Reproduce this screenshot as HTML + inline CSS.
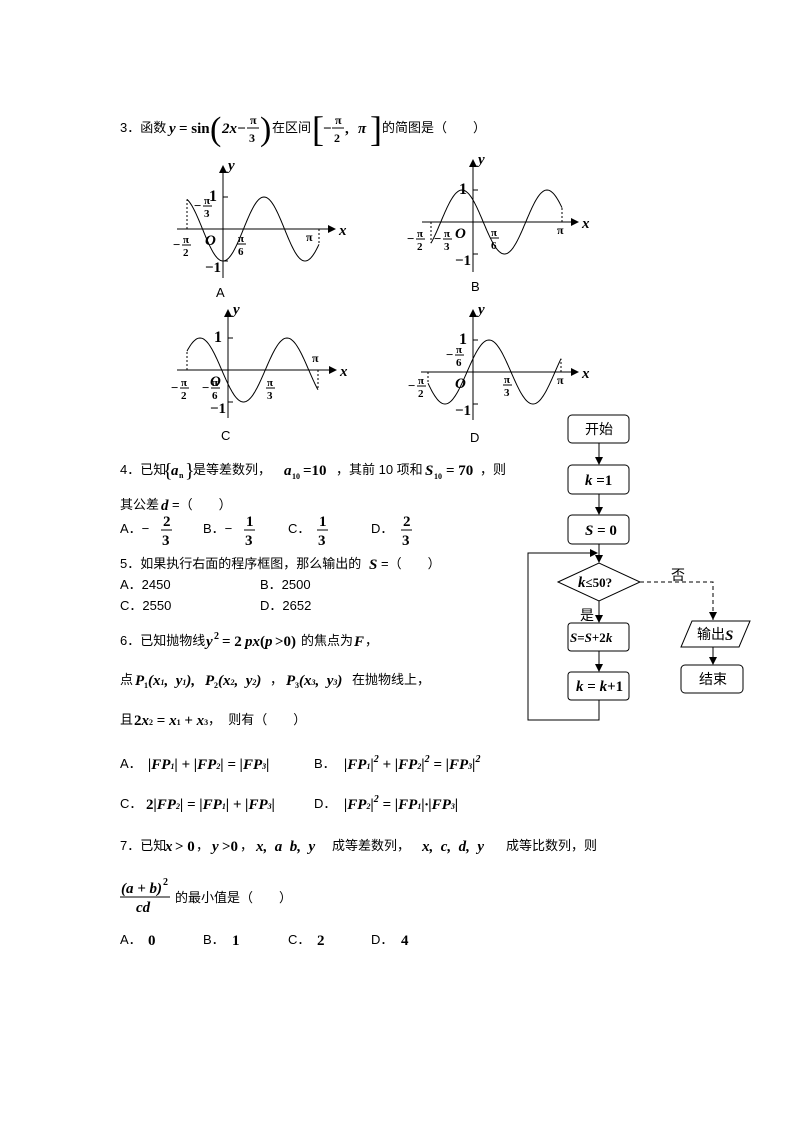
<!DOCTYPE html>
<html><head><meta charset="utf-8">
<style>
html,body{margin:0;padding:0;background:#fff;}
svg{display:block;}
text{white-space:pre;}
.t{font-family:"Liberation Sans","Noto Sans CJK SC",sans-serif;font-size:13px;fill:#000;}
.m{font-family:"Liberation Serif",serif;font-weight:bold;font-style:italic;font-size:15px;fill:#000;}
.n{font-family:"Liberation Serif",serif;font-weight:bold;font-style:normal;font-size:15px;fill:#000;}
.s{font-family:"Liberation Serif",serif;font-weight:bold;font-size:12px;fill:#000;}
.l{stroke:#000;stroke-width:1;fill:none;}
</style></head><body>
<svg id="g" width="794" height="1123" viewBox="0 0 794 1123" xmlns="http://www.w3.org/2000/svg">
<defs><marker id="ar" markerWidth="8" markerHeight="8" refX="7" refY="4" orient="auto" markerUnits="userSpaceOnUse"><path d="M0,0 L8,4 L0,8 Z" fill="#000"/></marker></defs>

<!-- Q3 -->
<text class="t" x="120" y="132">3．函数</text>
<text class="m" x="169" y="133">y</text><text class="n" x="179" y="133">= sin</text>
<text class="n" x="210" y="140" style="font-size:34px;font-weight:normal">(</text>
<text class="m" x="222" y="133">2x−</text>
<text class="s" x="250" y="124">π</text><line class="l" x1="247" y1="128" x2="259" y2="128"/><text class="s" x="249" y="142">3</text>
<text class="n" x="260" y="140" style="font-size:34px;font-weight:normal">)</text>
<text class="t" x="272" y="132">在区间</text>
<text class="n" x="312" y="141" style="font-size:36px;font-weight:normal">[</text>
<text class="n" x="323" y="133">−</text>
<text class="s" x="335" y="124">π</text><line class="l" x1="332" y1="128" x2="344" y2="128"/><text class="s" x="334" y="142">2</text>
<text class="n" x="345" y="133">,</text><text class="m" x="358" y="133">π</text>
<text class="n" x="370" y="141" style="font-size:36px;font-weight:normal">]</text>
<text class="t" x="382" y="132">的简图是（　　）</text>

<g id="graphs"></g>
<text class="t" x="216" y="297">A</text>
<text class="t" x="471" y="291">B</text>
<text class="t" x="221" y="440">C</text>
<text class="t" x="470" y="442">D</text>

<!-- Q4 -->
<text class="t" x="120" y="474">4．已知</text>
<text class="n" x="163" y="477" style="font-size:20px;font-weight:normal">{</text><text class="m" x="171" y="475">a</text><text class="s" x="179" y="478" style="font-size:8px">n</text><text class="n" x="185" y="477" style="font-size:20px;font-weight:normal">}</text>
<text class="t" x="193" y="474">是等差数列，</text>
<text class="m" x="284" y="475">a</text><text class="s" x="292" y="479" style="font-size:8px">10</text><text class="n" x="303" y="475">=10</text>
<text class="t" x="336" y="474">，其前 10 项和</text>
<text class="m" x="425" y="475">S</text><text class="s" x="434" y="479" style="font-size:8px">10</text><text class="n" x="446" y="475">= 70</text>
<text class="t" x="480" y="474">，则</text>
<text class="t" x="120" y="509">其公差</text><text class="m" x="161" y="510">d</text><text class="t" x="172" y="509">=（　　）</text>
<text class="t" x="120" y="533">A．−</text><text class="n" x="163" y="526">2</text><line class="l" x1="161" y1="530" x2="172" y2="530"/><text class="n" x="162" y="545">3</text>
<text class="t" x="203" y="533">B．−</text><text class="n" x="246" y="526">1</text><line class="l" x1="244" y1="530" x2="255" y2="530"/><text class="n" x="245" y="545">3</text>
<text class="t" x="288" y="533">C．</text><text class="n" x="319" y="526">1</text><line class="l" x1="317" y1="530" x2="328" y2="530"/><text class="n" x="318" y="545">3</text>
<text class="t" x="371" y="533">D．</text><text class="n" x="403" y="526">2</text><line class="l" x1="401" y1="530" x2="412" y2="530"/><text class="n" x="402" y="545">3</text>

<!-- Q5 -->
<text class="t" x="120" y="568">5．如果执行右面的程序框图，那么输出的</text>
<text class="m" x="369" y="569">S</text><text class="t" x="381" y="568">=（　　）</text>
<text class="t" x="120" y="589">A．2450</text><text class="t" x="260" y="589">B．2500</text>
<text class="t" x="120" y="610">C．2550</text><text class="t" x="260" y="610">D．2652</text>

<!-- Q6 -->
<text class="t" x="120" y="645">6．已知抛物线</text>
<text class="m" x="206" y="646">y</text><text class="s" x="214" y="639" style="font-size:10px">2</text><text class="n" x="222" y="646">= 2</text><text class="m" x="245" y="646">px</text><text class="n" x="260" y="646">(</text><text class="m" x="265" y="646">p</text><text class="n" x="275" y="646">&gt;0)</text>
<text class="t" x="301" y="645">的焦点为</text><text class="m" x="354" y="646">F</text><text class="t" x="365" y="645">，</text>
<text class="t" x="120" y="684">点</text>
<text class="m" x="135" y="685">P</text><text class="s" x="144" y="688" style="font-size:8px">1</text><text class="m" x="148" y="685">(x<tspan style="font-size:8px">1</tspan>,  y<tspan style="font-size:8px">1</tspan>),</text>
<text class="m" x="205" y="685">P</text><text class="s" x="214" y="688" style="font-size:8px">2</text><text class="m" x="218" y="685">(x<tspan style="font-size:8px">2</tspan>,  y<tspan style="font-size:8px">2</tspan>)</text>
<text class="t" x="270" y="684">，</text>
<text class="m" x="286" y="685">P</text><text class="s" x="295" y="688" style="font-size:8px">3</text><text class="m" x="299" y="685">(x<tspan style="font-size:8px">3</tspan>,  y<tspan style="font-size:8px">3</tspan>)</text>
<text class="t" x="352" y="684">在抛物线上，</text>
<text class="t" x="120" y="724">且</text><text class="n" x="134" y="725">2<tspan style="font-style:italic">x</tspan><tspan style="font-size:8px">2</tspan> = <tspan style="font-style:italic">x</tspan><tspan style="font-size:8px">1</tspan> + <tspan style="font-style:italic">x</tspan><tspan style="font-size:8px">3</tspan></text>
<text class="t" x="208" y="724">，  则有（　　）</text>

<text class="t" x="120" y="768">A．</text><text class="m" x="148" y="769">|FP<tspan style="font-size:8px">1</tspan>| + |FP<tspan style="font-size:8px">2</tspan>| = |FP<tspan style="font-size:8px">3</tspan>|</text>
<text class="t" x="314" y="768">B．</text><text class="m" x="344" y="769">|FP<tspan style="font-size:8px">1</tspan>|<tspan style="font-size:10px" dy="-7">2</tspan><tspan dy="7"> + |FP</tspan><tspan style="font-size:8px">2</tspan>|<tspan style="font-size:10px" dy="-7">2</tspan><tspan dy="7"> = |FP</tspan><tspan style="font-size:8px">3</tspan>|<tspan style="font-size:10px" dy="-7">2</tspan></text>
<text class="t" x="120" y="808">C．</text><text class="m" x="146" y="809"><tspan style="font-style:normal">2</tspan>|FP<tspan style="font-size:8px">2</tspan>| = |FP<tspan style="font-size:8px">1</tspan>| + |FP<tspan style="font-size:8px">3</tspan>|</text>
<text class="t" x="314" y="808">D．</text><text class="m" x="344" y="809">|FP<tspan style="font-size:8px">2</tspan>|<tspan style="font-size:10px" dy="-7">2</tspan><tspan dy="7"> = |FP</tspan><tspan style="font-size:8px">1</tspan>|·|FP<tspan style="font-size:8px">3</tspan>|</text>

<!-- Q7 -->
<text class="t" x="120" y="850">7．已知</text>
<text class="m" x="165" y="851">x</text><text class="n" x="175" y="851">&gt; 0</text><text class="t" x="196" y="850">，</text>
<text class="m" x="212" y="851">y</text><text class="n" x="222" y="851">&gt;0</text><text class="t" x="240" y="850">，</text>
<text class="m" x="256" y="851">x,  a  b,  y</text>
<text class="t" x="332" y="850">成等差数列，</text>
<text class="m" x="422" y="851">x,  c,  d,  y</text>
<text class="t" x="506" y="850">成等比数列，则</text>
<text class="m" x="121" y="893">(a + b)</text><text class="s" x="163" y="885" style="font-size:10px">2</text>
<line class="l" x1="120" y1="897" x2="170" y2="897"/>
<text class="m" x="136" y="912">cd</text>
<text class="t" x="175" y="902">的最小值是（　　）</text>
<text class="t" x="120" y="944">A．</text><text class="n" x="148" y="945">0</text>
<text class="t" x="203" y="944">B．</text><text class="n" x="232" y="945">1</text>
<text class="t" x="288" y="944">C．</text><text class="n" x="317" y="945">2</text>
<text class="t" x="371" y="944">D．</text><text class="n" x="401" y="945">4</text>

<!-- Flowchart -->
<g>
<rect class="l" x="568" y="415" width="61" height="28" rx="4"/><text class="t" x="585" y="434" style="font-size:14px">开始</text>
<line class="l" x1="599" y1="443" x2="599" y2="464" marker-end="url(#ar)"/>
<rect class="l" x="568" y="465" width="61" height="29" rx="4"/><text class="m" x="585" y="485">k <tspan style="font-style:normal">=1</tspan></text>
<line class="l" x1="599" y1="494" x2="599" y2="514" marker-end="url(#ar)"/>
<rect class="l" x="568" y="515" width="61" height="29" rx="4"/><text class="m" x="585" y="535">S <tspan style="font-style:normal">= 0</tspan></text>
<line class="l" x1="599" y1="544" x2="599" y2="562" marker-end="url(#ar)"/>
<polygon class="l" points="558,582 599,563 640,582 599,601"/>
<text class="m" x="578" y="587">k<tspan style="font-style:normal;font-size:13px">≤50?</tspan></text>
<line class="l" x1="599" y1="601" x2="599" y2="622" marker-end="url(#ar)"/>
<text class="t" x="580" y="620" style="font-size:14px">是</text>
<rect class="l" x="568" y="623" width="61" height="28" rx="3"/><text class="m" x="570" y="642" style="font-size:13px">S<tspan style="font-style:normal">=</tspan>S<tspan style="font-style:normal">+2</tspan>k</text>
<line class="l" x1="599" y1="651" x2="599" y2="671" marker-end="url(#ar)"/>
<rect class="l" x="568" y="672" width="61" height="28" rx="3"/><text class="m" x="576" y="691">k <tspan style="font-style:normal">=</tspan> k<tspan style="font-style:normal">+1</tspan></text>
<polyline class="l" points="599,700 599,720 528,720 528,553 597,553" marker-end="url(#ar)"/>
<polyline class="l" points="640,582 713,582 713,619" stroke-dasharray="4,3" marker-end="url(#ar)"/>
<line class="l" x1="713" y1="615" x2="713" y2="620"/>
<text class="t" x="671" y="580" style="font-size:14px">否</text>
<polygon class="l" points="692,621 750,621 739,647 681,647"/>
<text class="t" x="697" y="639" style="font-size:14px">输出</text><text class="m" x="725" y="640">S</text>
<line class="l" x1="713" y1="647" x2="713" y2="664" marker-end="url(#ar)"/>
<rect class="l" x="681" y="665" width="62" height="28" rx="4"/><text class="t" x="699" y="684" style="font-size:14px">结束</text>
</g>
</svg>
<script>
(function(){
var g=document.getElementById('graphs'),NS="http://www.w3.org/2000/svg";
function el(n,a,txt){var e=document.createElementNS(NS,n);for(var k in a)e.setAttribute(k,a[k]);if(txt)e.textContent=txt;g.appendChild(e);return e;}
function txt(x,y,s,cls,fs){var e=el('text',{x:x,y:y,'class':cls||'s'},s);if(fs)e.style.fontSize=fs+'px';}
function frac(x,y,top,bot,neg){if(neg)txt(x-9,y+4,'−','n',13);txt(x+1,y-2,top,'s',11);el('line',{x1:x,y1:y,x2:x+9,y2:y,'class':'l'});txt(x+1,y+11,bot,'s',11);}
function graph(o){
 el('line',{x1:o.xa0,y1:o.cy,x2:o.xa1,y2:o.cy,'class':'l','marker-end':'url(#ar)'});
 el('line',{x1:o.ox,y1:o.yb,x2:o.ox,y2:o.yt,'class':'l','marker-end':'url(#ar)'});
 el('line',{x1:o.ox,y1:o.cy-32,x2:o.ox+5,y2:o.cy-32,'class':'l'});
 el('line',{x1:o.ox,y1:o.cy+32,x2:o.ox+5,y2:o.cy+32,'class':'l'});
 var d='';for(var p=o.s;p<=o.e+0.01;p+=1){var y=o.cy-32*Math.cos(2*Math.PI*(p-o.pk)/o.per);d+=(d?'L':'M')+p.toFixed(1)+','+y.toFixed(1);}
 el('path',{d:d,'class':'l'});
 var ys=o.cy-32*Math.cos(2*Math.PI*(o.s-o.pk)/o.per),ye=o.cy-32*Math.cos(2*Math.PI*(o.e-o.pk)/o.per);
 el('line',{x1:o.s,y1:o.cy,x2:o.s,y2:ys,'class':'l','stroke-dasharray':'2,2'});
 el('line',{x1:o.e,y1:o.cy,x2:o.e,y2:ye,'class':'l','stroke-dasharray':'2,2'});
 txt(o.xa1+4,o.cy+6,'x','m',15);txt(o.ox+5,o.yt+4,'y','m',15);
 txt(o.ox-14,o.cy-28,'1','n',16);txt(o.ox-18,o.cy+43,'−1','n',15);
 txt(o.ox-18,o.cy+16,'O','m',15);
}
graph({ox:223,cy:229,xa0:177,xa1:335,yt:166,yb:278,s:187,e:319,pk:264,per:82});
graph({ox:473,cy:222,xa0:422,xa1:578,yt:160,yb:272,s:431,e:562,pk:462,per:85});
graph({ox:228,cy:370,xa0:177,xa1:336,yt:310,yb:418,s:187,e:318,pk:200,per:87});
graph({ox:473,cy:372,xa0:421,xa1:578,yt:310,yb:420,s:428,e:561,pk:489,per:88});
frac(182,245,'π','2',true);frac(203,206,'π','3',true);frac(237,244,'π','6');txt(306,241,'π','s',12);
frac(416,239,'π','2',true);frac(443,239,'π','3',true);frac(490,238,'π','6');txt(557,234,'π','s',12);
frac(180,388,'π','2',true);frac(211,388,'π','6',true);frac(266,388,'π','3');txt(312,362,'π','s',12);
frac(417,386,'π','2',true);frac(455,355,'π','6',true);frac(503,385,'π','3');txt(557,384,'π','s',12);
})();
</script>
</body></html>
